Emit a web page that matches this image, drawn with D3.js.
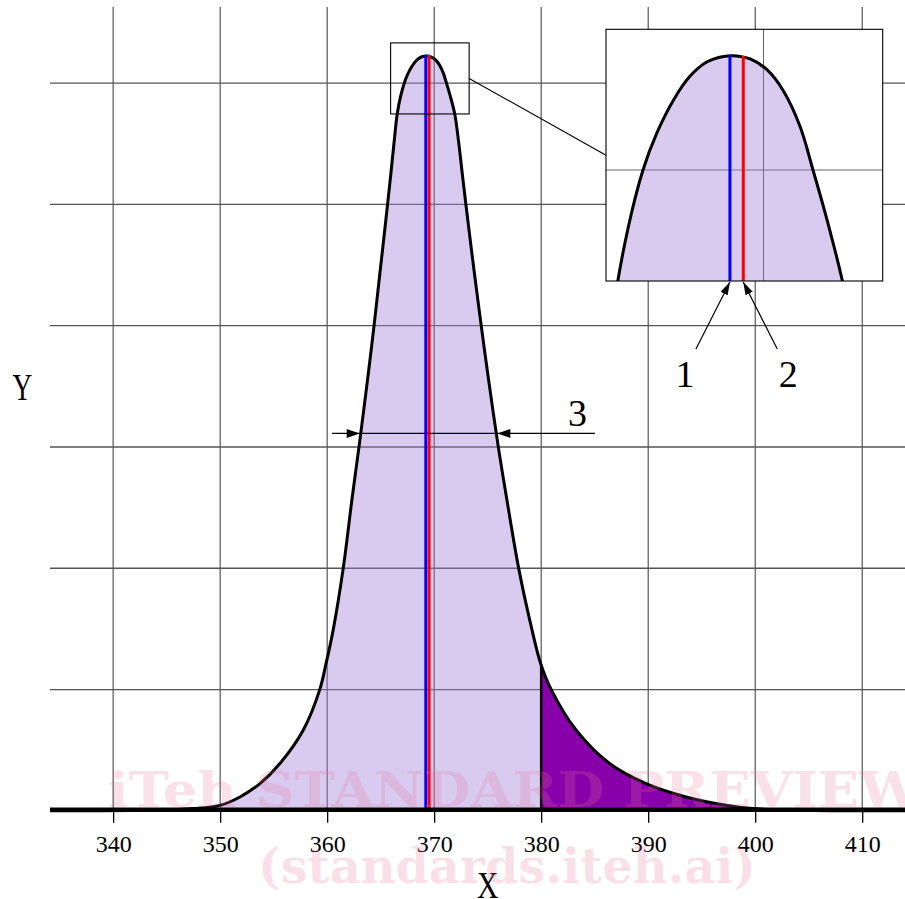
<!DOCTYPE html>
<html>
<head>
<meta charset="utf-8">
<script src="https://cdn.jsdelivr.net/npm/d3@7"></script>
<style>
html, body { margin: 0; padding: 0; background: #fff; }
svg { display: block; }
</style>
</head>
<body>
<div id="chart"></div>
<script>
// curve: x values and matching heights
const curveX = [334.1, 343.0, 347.47, 349.99, 351.85, 353.72, 355.59, 357.76, 359.3, 359.9,
  360.56, 361.50, 362.35, 362.97, 363.85, 364.38, 364.93, 365.28, 365.64, 365.96,
  366.28, 366.55, 366.86, 367.2, 367.52, 367.91, 368.29, 368.68, 369.07, 369.38,
  369.69, 370.08, 370.46, 370.85, 371.15, 371.50, 371.92, 372.26, 372.62, 372.97,
  373.37, 373.76, 374.40, 375.00, 376.00, 376.75, 377.90, 379.15, 379.95,
  380.95, 383.28, 386.39, 389.81, 393.55, 397.28, 399.73, 404.0, 414.0];
const curveY = [0, 0.004, 0.018, 0.045, 0.114, 0.224, 0.390, 0.664, 0.997, 1.215,
  1.490, 1.999, 2.590, 2.997, 3.608, 3.999, 4.433, 4.708, 4.997, 5.259,
  5.534, 5.748, 5.889, 6.000, 6.072, 6.137, 6.183, 6.211, 6.222, 6.223,
  6.217, 6.196, 6.155, 6.085, 6.000, 5.895, 5.748, 5.534, 5.259, 4.997,
  4.708, 4.433, 3.999, 3.608, 2.997, 2.590, 1.999, 1.490, 1.215,
  0.997, 0.664, 0.390, 0.224, 0.114, 0.045, 0.018, 0.004, 0];

const xTicks = [340, 350, 360, 370, 380, 390, 400, 410];
const yGrid = [1, 2, 3, 4, 5, 6];
const tailFrom = 380;
const markX = [369.22, 369.53];        // 1 = blue, 2 = red
const markColors = ["#0000ff", "#ff0000"];
const markNames = ["1", "2"];
const widthSpan = [360.45, 385.03];   // the "3" dimension line
const widthName = "3";
const zoomX = [365.93, 373.27];       // small box on the peak
const zoomY = [5.746, 6.332];
const insetX = [366.34, 372.77];      // what the inset shows
const insetY = [5.783, 6.275];
const insetGridX = [370];
const insetGridY = [6];

const W = 905, H = 899;
const svg = d3.select("#chart").append("svg").attr("width", W).attr("height", H);

const x = d3.scaleLinear().domain([334.1, 414]).range([50, 905]);
const y = d3.scaleLinear().domain([0, 6.628]).range([810.8, 7]);
const f = d3.scaleLinear().domain(curveX).range(curveY); // height at any x
const pts = curveX.map((v, i) => [v, curveY[i]]);
const smooth = d3.curveCatmullRom.alpha(0.5);

const lavender = "rgb(160,125,218)";
const defs = svg.append("defs");

// grid
svg.append("g").selectAll("line").data(xTicks).join("line")
  .attr("x1", d => x(d)).attr("x2", d => x(d))
  .attr("y1", y.range()[1]).attr("y2", y(0))
  .attr("stroke", "#333").attr("stroke-width", 1);
svg.append("g").selectAll("line").data(yGrid).join("line")
  .attr("x1", x.range()[0]).attr("x2", x.range()[1])
  .attr("y1", d => y(d)).attr("y2", d => y(d))
  .attr("stroke", "#555").attr("stroke-width", 1.3);

const area = d3.area().curve(smooth)
  .x(d => x(d[0])).y0(y(0)).y1(d => y(d[1]));
const line = d3.line().curve(smooth)
  .x(d => x(d[0])).y(d => y(d[1]));

svg.append("path").attr("d", area(pts))
  .attr("fill", lavender).attr("fill-opacity", 0.4);

defs.append("clipPath").attr("id", "tail").append("rect")
  .attr("x", x(tailFrom)).attr("y", 0)
  .attr("width", x.range()[1] - x(tailFrom)).attr("height", y(0));
svg.append("path").attr("d", area(pts)).attr("clip-path", "url(#tail)")
  .attr("fill", "#8800aa");

svg.append("line")
  .attr("x1", x(tailFrom)).attr("x2", x(tailFrom))
  .attr("y1", y(0)).attr("y2", y(f(tailFrom)))
  .attr("stroke", "#000").attr("stroke-width", 2.5);

svg.append("path").attr("d", line(pts))
  .attr("fill", "none").attr("stroke", "#000").attr("stroke-width", 3);

svg.append("g").selectAll("line").data(markX).join("line")
  .attr("x1", d => x(d)).attr("x2", d => x(d))
  .attr("y1", y(0)).attr("y2", d => y(f(d)) - 1.5)
  .attr("stroke", (d, i) => markColors[i]).attr("stroke-width", 3);

// baseline and axis
svg.append("line")
  .attr("x1", x.range()[0]).attr("x2", x.range()[1])
  .attr("y1", y(0) - 1).attr("y2", y(0) - 1)
  .attr("stroke", "#000").attr("stroke-width", 4.5);

const axis = d3.axisBottom(x).tickValues(xTicks).tickSize(12).tickPadding(12)
  .tickFormat(d3.format("d"));
svg.append("g").attr("transform", `translate(0,${y(0)})`).call(axis)
  .attr("font-family", "Liberation Serif, serif").attr("font-size", 24)
  .call(g => g.select(".domain").remove())
  .call(g => g.selectAll(".tick line").attr("stroke", "#000").attr("stroke-width", 1.3))
  .call(g => g.selectAll(".tick text").attr("fill", "#000"));

svg.append("text").attr("transform", `translate(${x(375.0)},898) scale(0.78,1)`)
  .attr("text-anchor", "middle").attr("font-family", "Liberation Serif, serif")
  .attr("font-size", 38).text("X");
svg.append("text").attr("transform", "translate(22.5,400) scale(0.72,1)")
  .attr("text-anchor", "middle").attr("font-family", "Liberation Serif, serif")
  .attr("font-size", 38).text("Y");

// width at half height, "3"
const peakI = d3.maxIndex(curveY);
const half = curveY[peakI] / 2;
function cross(from, to, step) {
  for (let i = from; i !== to; i += step) {
    const a = curveY[i], b = curveY[i + step];
    if ((a - half) * (b - half) <= 0) {
      return curveX[i] + (half - a) / (b - a) * (curveX[i + step] - curveX[i]);
    }
  }
}
const leftX = cross(0, peakI, 1);
const rightX = cross(curveX.length - 1, peakI, -1);
const yHalf = y(half);
svg.append("line").attr("x1", x(widthSpan[0])).attr("x2", x(widthSpan[1]))
  .attr("y1", yHalf).attr("y2", yHalf).attr("stroke", "#000").attr("stroke-width", 1.2);
const head = "M0,0L-13,-4.5L-13,4.5Z";
svg.append("path").attr("d", head).attr("transform", `translate(${x(leftX) - 1},${yHalf})`);
svg.append("path").attr("d", head).attr("transform", `translate(${x(rightX) + 1},${yHalf}) rotate(180)`);
svg.append("text").attr("x", x(383.4)).attr("y", yHalf - 7).attr("text-anchor", "middle")
  .attr("font-family", "Liberation Serif, serif").attr("font-size", 38).text(widthName);

// small box on the peak
const zb = {x0: x(zoomX[0]), x1: x(zoomX[1]), y0: y(zoomY[1]), y1: y(zoomY[0])};
svg.append("rect").attr("x", zb.x0).attr("y", zb.y0)
  .attr("width", zb.x1 - zb.x0).attr("height", zb.y1 - zb.y0)
  .attr("fill", "none").attr("stroke", "#000").attr("stroke-width", 1.1);

// inset
const xi = d3.scaleLinear().domain(insetX).range([606, 882.7]);
const yi = d3.scaleLinear().domain(insetY).range([281, 29.3]);
const ib = {x0: xi.range()[0], x1: xi.range()[1], y0: yi.range()[1], y1: yi.range()[0]};

svg.append("line").attr("x1", zb.x1).attr("y1", (zb.y0 + zb.y1) / 2)
  .attr("x2", ib.x0).attr("y2", (ib.y0 + ib.y1) / 2)
  .attr("stroke", "#000").attr("stroke-width", 1.1);

defs.append("clipPath").attr("id", "inset").append("rect")
  .attr("x", ib.x0).attr("y", ib.y0).attr("width", ib.x1 - ib.x0).attr("height", ib.y1 - ib.y0);
const inset = svg.append("g");
inset.append("rect").attr("x", ib.x0).attr("y", ib.y0)
  .attr("width", ib.x1 - ib.x0).attr("height", ib.y1 - ib.y0).attr("fill", "#fff");
const ig = inset.append("g").attr("clip-path", "url(#inset)");
ig.selectAll(".gx").data(insetGridX).join("line").attr("class", "gx")
  .attr("x1", d => xi(d)).attr("x2", d => xi(d)).attr("y1", ib.y0).attr("y2", ib.y1)
  .attr("stroke", "#666").attr("stroke-width", 1.1);
ig.selectAll(".gy").data(insetGridY).join("line").attr("class", "gy")
  .attr("x1", ib.x0).attr("x2", ib.x1).attr("y1", d => yi(d)).attr("y2", d => yi(d))
  .attr("stroke", "#666").attr("stroke-width", 1.1);
ig.append("path")
  .attr("d", d3.area().curve(smooth).x(d => xi(d[0])).y0(ib.y1).y1(d => yi(d[1]))(pts))
  .attr("fill", lavender).attr("fill-opacity", 0.4);
ig.append("path")
  .attr("d", d3.line().curve(smooth).x(d => xi(d[0])).y(d => yi(d[1]))(pts))
  .attr("fill", "none").attr("stroke", "#000").attr("stroke-width", 3);
ig.selectAll(".mk").data(markX).join("line").attr("class", "mk")
  .attr("x1", d => xi(d)).attr("x2", d => xi(d))
  .attr("y1", ib.y1).attr("y2", d => yi(f(d)) - 1.5)
  .attr("stroke", (d, i) => markColors[i]).attr("stroke-width", 3);
inset.append("rect").attr("x", ib.x0).attr("y", ib.y0)
  .attr("width", ib.x1 - ib.x0).attr("height", ib.y1 - ib.y0)
  .attr("fill", "none").attr("stroke", "#000").attr("stroke-width", 1.1);

// pointers 1 and 2
defs.append("marker").attr("id", "arr").attr("viewBox", "0 0 13 8")
  .attr("refX", 13).attr("refY", 4).attr("markerWidth", 13).attr("markerHeight", 8)
  .attr("markerUnits", "userSpaceOnUse").attr("orient", "auto")
  .append("path").attr("d", "M0,0L13,4L0,8Z");
const side = [-1, 1];
svg.append("g").selectAll("line").data(markX).join("line")
  .attr("x1", (d, i) => xi(d) + side[i] * 34).attr("y1", ib.y1 + 68)
  .attr("x2", d => xi(d)).attr("y2", ib.y1 + 1)
  .attr("stroke", "#000").attr("stroke-width", 1.2).attr("marker-end", "url(#arr)");
svg.append("g").selectAll("text").data(markX).join("text")
  .attr("x", (d, i) => xi(d) + side[i] * 45).attr("y", ib.y1 + 106)
  .attr("text-anchor", "middle").attr("font-family", "Liberation Serif, serif")
  .attr("font-size", 38).text((d, i) => markNames[i]);

// watermark
const wm = svg.append("g").attr("font-family", "DejaVu Serif, serif").attr("font-weight", "bold")
  .attr("font-size", 48).attr("fill", "#e8739a").attr("fill-opacity", 0.22);
wm.append("text").attr("x", 108).attr("y", 807).attr("textLength", 812)
  .attr("lengthAdjust", "spacingAndGlyphs").text("iTeh STANDARD PREVIEW");
wm.append("text").attr("x", 258).attr("y", 883).attr("textLength", 498)
  .attr("lengthAdjust", "spacingAndGlyphs").text("(standards.iteh.ai)");
</script>
</body>
</html>
